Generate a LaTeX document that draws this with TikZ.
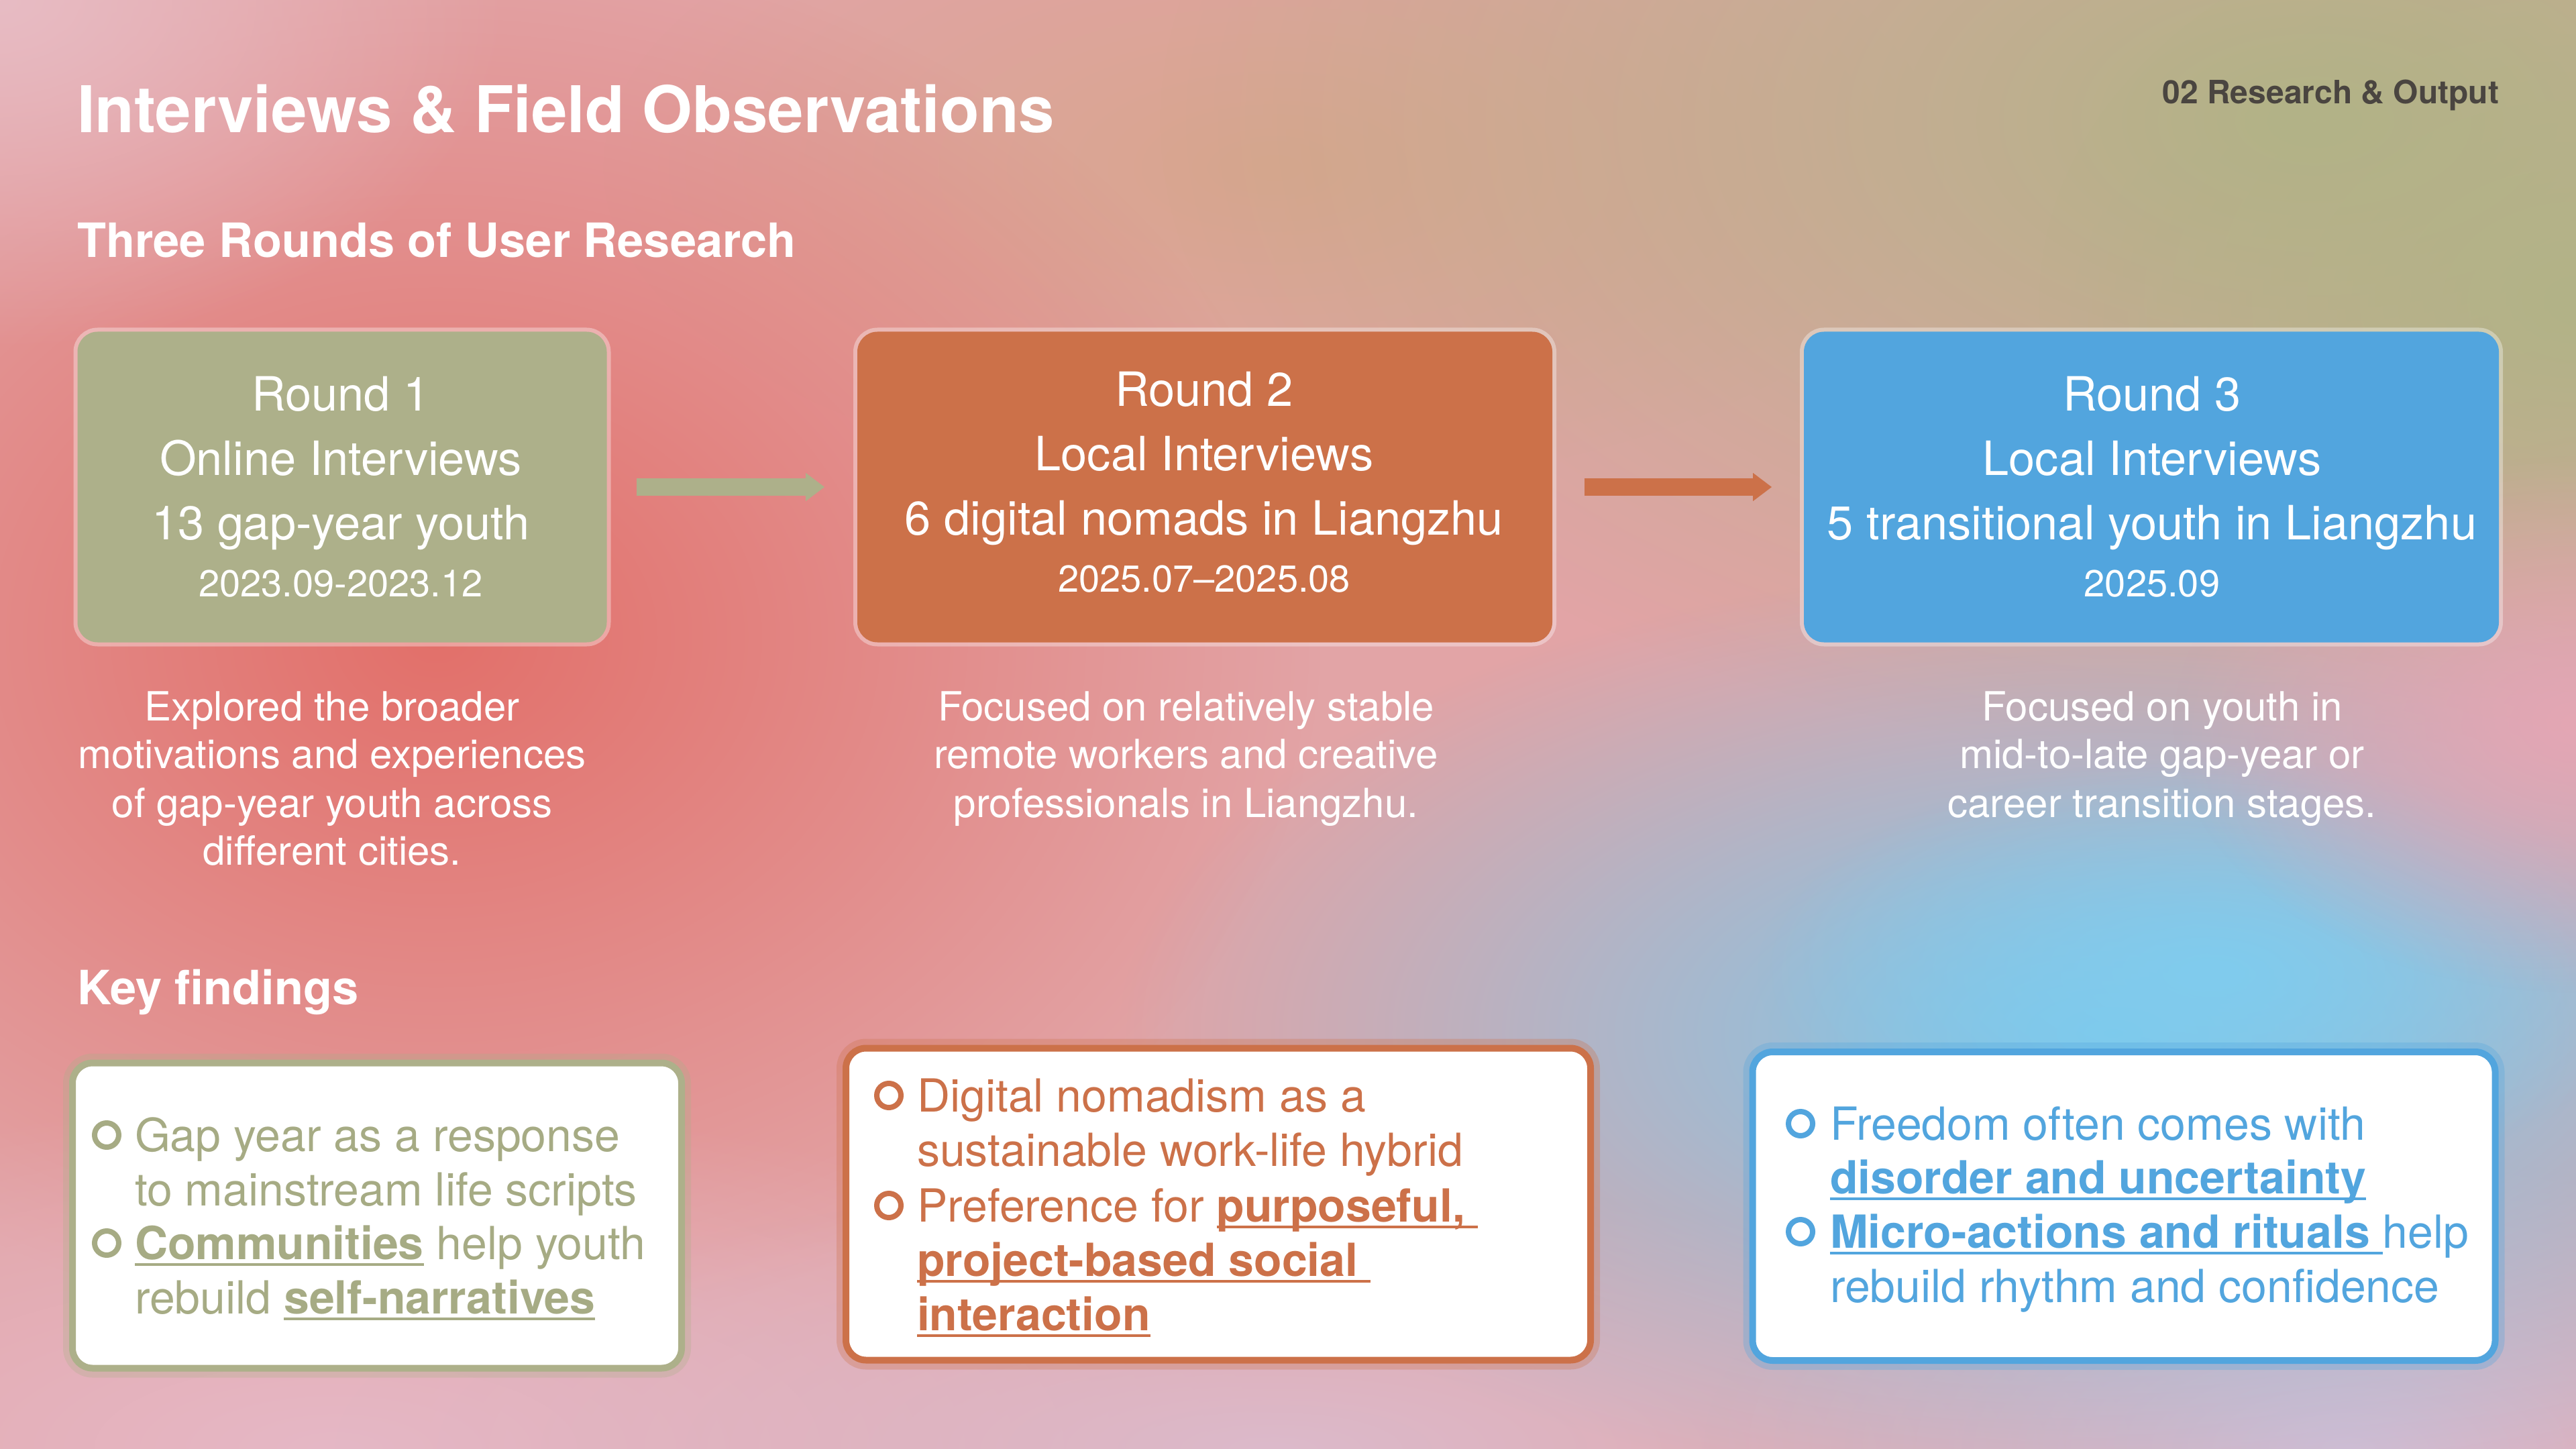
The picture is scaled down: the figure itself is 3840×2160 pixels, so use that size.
\documentclass[tikz,border=0pt]{standalone}
\usepackage{fontspec}
\setmainfont{TeX Gyre Heros}
\usetikzlibrary{fadings,arrows.meta}
\tikzfading[name=blobfade, inner color=transparent!0, outer color=transparent!100]
\definecolor{sage}{HTML}{ADB08A}
\definecolor{sagetxt}{HTML}{A6AB84}
\definecolor{orng}{HTML}{CC7149}
\definecolor{blu}{HTML}{52A5DE}
\definecolor{bgbase}{HTML}{E2A4A6}
\definecolor{bgred}{HTML}{E3706A}
\definecolor{bgolive}{HTML}{B2B387}
\definecolor{bgpeach}{HTML}{D8A68E}
\definecolor{bgpinkA}{HTML}{E8BCC4}
\definecolor{bgblue}{HTML}{7AC8EC}
\definecolor{bgcyan}{HTML}{80CCEE}
\definecolor{bgpinkB}{HTML}{E6B8C6}
\definecolor{bglav}{HTML}{D6BCD2}
\definecolor{bglavB}{HTML}{DCBACB}
\definecolor{bgpinkC}{HTML}{E4A6B4}
\definecolor{hdr}{HTML}{4A4540}
\newcommand\fsz[1]{\fontsize{#1}{#1}\selectfont}
\newcommand\ulin[1]{\setbox0\hbox{#1}\rlap{\rule[-0.15em]{\wd0}{0.065em}}\box0\relax}
\tikzset{
  txt/.style={inner sep=0pt, outer sep=0pt},
  rbox/.style={rectangle, rounded corners=7.5pt, inner sep=0pt, minimum height=115.75pt,
     preaction={draw=white, draw opacity=.35, line width=3pt}},
  fbox/.style={rectangle, rounded corners=7.5pt, fill=white, line width=2.5pt, inner sep=0pt,
     preaction={draw, draw opacity=.3, line width=7pt}},
  flow/.style={line width=6.25pt, -{Triangle[length=7pt,width=10pt]}},
  bul/.style={circle, draw, line width=2pt, minimum size=9pt, inner sep=0pt},
  rtxt/.style={txt, text=white, font=\fsz{17.6}, anchor=base},
  dtxt/.style={txt, text=white, font=\fsz{15}, anchor=base},
  ftxt/.style={txt, font=\fsz{17}, anchor=base west},
  blob/.style={fill=#1, path fading=blobfade},
}
\begin{document}
\begin{tikzpicture}[x=0.25pt, y=-0.25pt]
\useasboundingbox (0,0) rectangle (3840,2160);
% background
\fill[bgbase] (0,0) rectangle (3840,2160);
\fill[blob=bgpeach] (1900,250) ellipse [x radius=250pt, y radius=120pt];
\fill[blob=bgolive] (3450,180) ellipse [x radius=430pt, y radius=240pt];
\fill[blob=bgolive] (3840,450) ellipse [x radius=200pt, y radius=150pt];
\fill[blob=bgred] (650,950) ellipse [x radius=330pt, y radius=260pt];
\fill[blob=bgpinkA] (0,0) ellipse [x radius=190pt, y radius=130pt];
\fill[blob=bgpinkB] (500,2160) ellipse [x radius=360pt, y radius=130pt];
\fill[blob=bglavB] (1900,2160) ellipse [x radius=350pt, y radius=100pt];
\fill[blob=bglav] (3500,2160) ellipse [x radius=240pt, y radius=110pt];
\fill[blob=bgblue] (3150,1540) ellipse [x radius=370pt, y radius=175pt];
\fill[blob=bgcyan] (3300,1450) ellipse [x radius=170pt, y radius=80pt];
\fill[blob=bgpinkC] (3840,1080) ellipse [x radius=150pt, y radius=100pt];

% headings
\node[txt, anchor=base west, text=white, font=\bfseries\fsz{24}] (title) at (115,198) {Interviews \& Field Observations};
\node[txt, anchor=base east, text=hdr, font=\bfseries\fsz{12}] (section) at (3725,155) {02 Research \& Output};
\node[txt, anchor=base west, text=white, font=\bfseries\fsz{17.6}] (sub1) at (115,384) {Three Rounds of User Research};
\node[txt, anchor=base west, text=white, font=\bfseries\fsz{17.6}] (sub2) at (115,1497) {Key findings};

% round boxes
\node[rbox, fill=sage, minimum width=197.25pt] (r1) at (510,726) {};
\node[rbox, fill=orng, minimum width=259pt] (r2) at (1796,726) {};
\node[rbox, fill=blu, minimum width=259pt] (r3) at (3207,726) {};

\draw[flow, draw=sage, shorten <=11pt, shorten >=12pt] (r1.east) -- (r2.west);
\draw[flow, draw=orng, shorten <=11.75pt, shorten >=11.75pt] (r2.east) -- (r3.west);

\node[rtxt] (r1a) at (508,613) {Round 1};
\node[rtxt] (r1b) at (508,709) {Online Interviews};
\node[rtxt] (r1c) at (508,804) {13 gap-year youth};
\node[rtxt, font=\fsz{14}] (r1d) at (508,889) {2023.09-2023.12};

\node[rtxt] (r2a) at (1795,606) {Round 2};
\node[rtxt] (r2b) at (1795,701) {Local Interviews};
\node[rtxt] (r2c) at (1795,797) {6 digital nomads in Liangzhu};
\node[rtxt, font=\fsz{14}] (r2d) at (1795,882) {2025.07–2025.08};

\node[rtxt] (r3a) at (3208,613) {Round 3};
\node[rtxt] (r3b) at (3208,709) {Local Interviews};
\node[rtxt] (r3c) at (3208,804) {5 transitional youth in Liangzhu};
\node[rtxt, font=\fsz{14}] (r3d) at (3208,889) {2025.09};

% descriptions
\node[dtxt] (d1a) at (495,1074) {Explored the broader};
\node[dtxt] (d1b) at (495,1145) {motivations and experiences};
\node[dtxt] (d1c) at (495,1218) {of gap-year youth across};
\node[dtxt] (d1d) at (495,1289) {different cities.};

\node[dtxt] (d2a) at (1768,1074) {Focused on relatively stable};
\node[dtxt] (d2b) at (1768,1145) {remote workers and creative};
\node[dtxt] (d2c) at (1768,1218) {professionals in Liangzhu.};

\node[dtxt] (d3a) at (3223,1074) {Focused on youth in};
\node[dtxt] (d3b) at (3223,1145) {mid-to-late gap-year or};
\node[dtxt] (d3c) at (3223,1218) {career transition stages.};

% findings boxes
\node[fbox, draw=sage, minimum width=227pt, minimum height=113.75pt] (f1) at (562,1812) {};
\node[fbox, draw=orng, minimum width=277.5pt, minimum height=116.25pt] (f2) at (1816,1795) {};
\node[fbox, draw=blu, minimum width=276.75pt, minimum height=115pt] (f3) at (3166,1798) {};

% findings text 1
\node[bul, draw=sagetxt] (b1a) at (159,1692) {};
\node[ftxt, text=sagetxt] (f1a) at (201,1716) {Gap year as a response};
\node[ftxt, text=sagetxt] (f1b) at (201,1797) {to mainstream life scripts};
\node[bul, draw=sagetxt] (b1b) at (159,1853) {};
\node[ftxt, text=sagetxt] (f1c) at (201,1877) {\ulin{\textbf{Communities}} help youth};
\node[ftxt, text=sagetxt] (f1d) at (201,1958) {rebuild \ulin{\textbf{self-narratives}}};

% findings text 2
\node[bul, draw=orng] (b2a) at (1325,1633) {};
\node[ftxt, text=orng] (f2a) at (1367,1657) {Digital nomadism as a};
\node[ftxt, text=orng] (f2b) at (1367,1738) {sustainable work-life hybrid};
\node[bul, draw=orng] (b2b) at (1325,1797) {};
\node[ftxt, text=orng] (f2c) at (1367,1821) {Preference for \ulin{\textbf{purposeful,\ }}};
\node[ftxt, text=orng] (f2d) at (1367,1902) {\ulin{\textbf{project-based social\ }}};
\node[ftxt, text=orng] (f2e) at (1367,1983) {\ulin{\textbf{interaction}}};

% findings text 3
\node[bul, draw=blu] (b3a) at (2684,1675) {};
\node[ftxt, text=blu] (f3a) at (2728,1699) {Freedom often comes with};
\node[ftxt, text=blu] (f3b) at (2728,1779) {\ulin{\textbf{disorder and uncertainty}}};
\node[bul, draw=blu] (b3b) at (2684,1836) {};
\node[ftxt, text=blu] (f3c) at (2728,1860) {\ulin{\textbf{Micro-actions and rituals\ }}help};
\node[ftxt, text=blu] (f3d) at (2728,1941) {rebuild rhythm and confidence};
\end{tikzpicture}
\end{document}
